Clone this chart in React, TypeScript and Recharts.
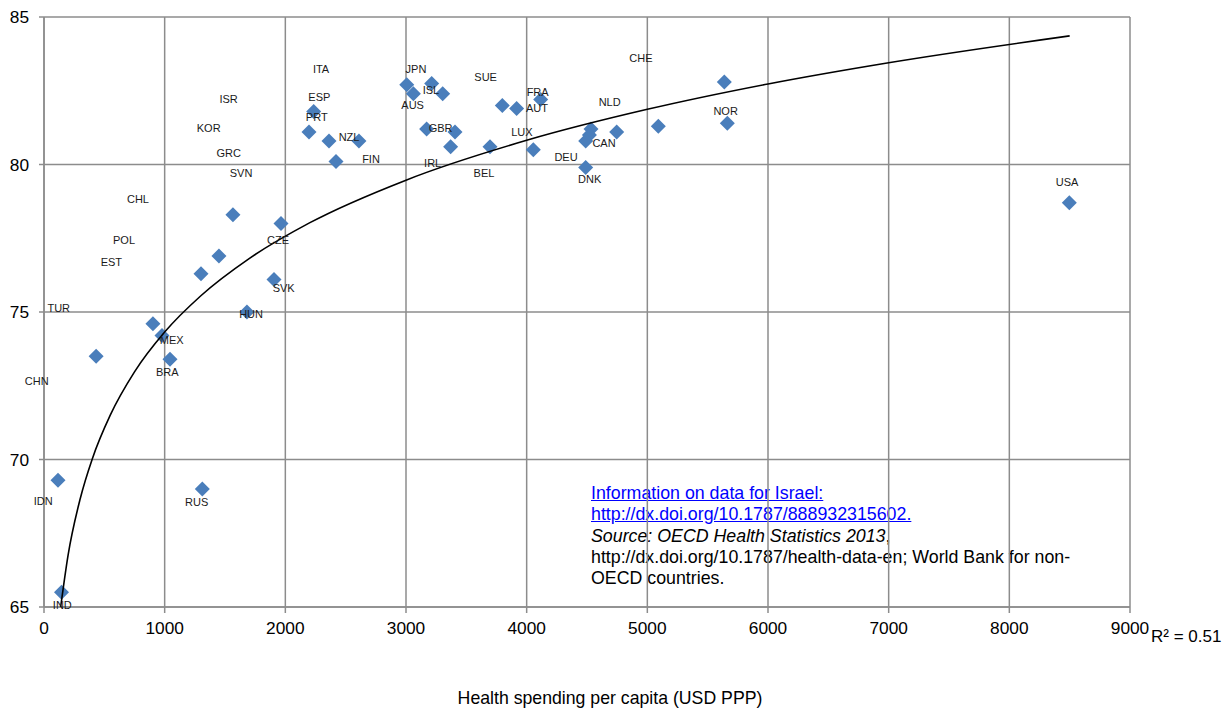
import React from "react";
import { ScatterChart, Scatter, XAxis, YAxis, CartesianGrid, ReferenceDot } from "recharts";

// health spending per capita (USD PPP) vs life expectancy
const countries = [
  "IND", "IDN", "CHN", "TUR", "MEX", "BRA", "RUS", "HUN", "EST", "POL",
  "CHL", "SVK", "CZE", "ISR", "KOR", "GRC", "SVN", "PRT", "ITA", "ESP",
  "JPN", "ISL", "NZL", "GBR", "FIN", "IRL", "AUS", "SUE", "FRA", "BEL",
  "AUT", "CAN", "DEU", "DNK", "LUX", "NLD", "CHE", "NOR", "USA",
];
const spending = [
  145, 116, 432, 903, 978, 1044, 1312, 1682, 1301, 1450,
  1566, 1906, 1964, 2235, 2196, 2362, 2420, 2610, 3006, 3061,
  3213, 3304, 3171, 3406, 3370, 3696, 3798, 3917, 4116, 4055,
  4533, 4520, 4489, 4489, 4746, 5091, 5638, 5663, 8497,
];
const lifeExpectancy = [
  65.5, 69.3, 73.5, 74.6, 74.2, 73.4, 69.0, 75.0, 76.3, 76.9,
  78.3, 76.1, 78.0, 81.8, 81.1, 80.8, 80.1, 80.8, 82.7, 82.4,
  82.75, 82.4, 81.2, 81.1, 80.6, 80.6, 82.0, 81.9, 82.2, 80.5,
  81.2, 81.0, 80.8, 79.9, 81.1, 81.3, 82.8, 81.4, 78.7,
];

// the data labels sit where the original chart left them, not next to the points
const labelNames = [
  "ITA", "ESP", "PRT", "NZL", "FIN", "ISR", "KOR", "GRC", "SVN", "CHL",
  "POL", "EST", "CZE", "SVK", "TUR", "HUN", "MEX", "BRA", "CHN", "IDN",
  "RUS", "IND", "JPN", "AUS", "ISL", "GBR", "IRL", "SUE", "BEL", "FRA",
  "AUT", "LUX", "DEU", "DNK", "CAN", "NLD", "CHE", "NOR", "USA",
];
const labelX = [
  2296, 2282, 2260, 2528, 2710, 1530, 1365, 1530, 1633, 779,
  663, 558, 1939, 1986, 122, 1716, 1058, 1022, -60, -6,
  1265, 152, 3083, 3055, 3207, 3287, 3221, 3660, 3646, 4091,
  4086, 3961, 4326, 4522, 4641, 4688, 4947, 5649, 8478,
];
const labelY = [
  83.24, 82.29, 81.61, 80.93, 80.19, 82.22, 81.24, 80.39, 79.71, 78.83,
  77.44, 76.69, 77.44, 75.81, 75.14, 74.92, 74.05, 72.97, 72.66, 68.59,
  68.56, 65.07, 83.24, 82.02, 82.53, 81.24, 80.05, 82.97, 79.7, 82.46,
  81.92, 81.1, 80.25, 79.51, 80.73, 82.12, 83.61, 81.81, 79.39,
];

// logarithmic trend line
const trendX = [138, 200, 300, 400, 550, 750, 1000, 1300, 1700, 2200, 3000, 4000, 5000, 6000, 7000, 8500];
const trendY = [65.0, 66.77, 68.67, 70.02, 71.51, 72.97, 74.32, 75.55, 76.81, 78.02, 79.47, 80.82, 81.87, 82.73, 83.45, 84.36];

const xTicks = [0, 1000, 2000, 3000, 4000, 5000, 6000, 7000, 8000, 9000];
const yTicks = [65, 70, 75, 80, 85];

const points = countries.map((c, i) => ({ name: c, x: spending[i], y: lifeExpectancy[i] }));
const trend = trendX.map((x, i) => ({ x, y: trendY[i] }));

const FONT = "'Liberation Sans', Arial, sans-serif";
const GRID = "#8c8c8c";

const Diamond = (props: any) => {
  const { cx, cy } = props;
  const r = 7.5;
  return (
    <path
      d={`M${cx},${cy - r}L${cx + r},${cy}L${cx},${cy + r}L${cx - r},${cy}Z`}
      fill="#4A7EBB"
    />
  );
};

export default function App() {
  return (
    <div style={{ position: "absolute", left: 0, top: 0, width: 1222, height: 709, background: "#fff", fontFamily: FONT }}>
      <div
        style={{
          position: "absolute",
          left: 591,
          top: 483,
          fontSize: 17.8,
          lineHeight: "21.3px",
          color: "#000",
          whiteSpace: "nowrap",
        }}
      >
        <div style={{ color: "#0000ff", textDecoration: "underline" }}>Information on data for Israel:</div>
        <div style={{ color: "#0000ff", textDecoration: "underline" }}>http://dx.doi.org/10.1787/888932315602.</div>
        <div>
          <i>Source: OECD Health Statistics 2013</i>,
        </div>
        <div>http://dx.doi.org/10.1787/health-data-en; World Bank for non-</div>
        <div>OECD countries.</div>
      </div>

      <div style={{ position: "absolute", left: 0, top: 0 }}>
        <ScatterChart width={1222} height={709} margin={{ top: 17, right: 92, left: 0, bottom: 62 }}>
          <CartesianGrid stroke={GRID} strokeWidth={1.5} />
          <XAxis
            type="number"
            dataKey="x"
            domain={[0, 9000]}
            ticks={xTicks}
            interval={0}
            height={40}
            stroke={GRID}
            strokeWidth={1.5}
            tickSize={6}
            tickMargin={9}
            tick={{ fill: "#000", fontSize: 17.3, fontFamily: FONT }}
          />
          <YAxis
            type="number"
            dataKey="y"
            domain={[65, 85]}
            ticks={yTicks}
            interval={0}
            width={44}
            stroke={GRID}
            strokeWidth={1.5}
            tickSize={5}
            tickMargin={10}
            tick={{ fill: "#000", fontSize: 17.3, fontFamily: FONT }}
          />
          <Scatter data={points} shape={Diamond} isAnimationActive={false} />
          <Scatter
            data={trend}
            line={{ stroke: "#000", strokeWidth: 1.6 }}
            lineJointType="monotoneX"
            shape={() => <g />}
            isAnimationActive={false}
          />
          {labelNames.map((name, i) => (
            <ReferenceDot
              key={name}
              x={labelX[i]}
              y={labelY[i]}
              r={0}
              ifOverflow="visible"
              shape={(p: any) => (
                <text
                  x={p.cx}
                  y={p.cy}
                  dy="0.36em"
                  textAnchor="middle"
                  fontSize={11}
                  fontFamily={FONT}
                  fill="#1a1a1a"
                >
                  {name}
                </text>
              )}
            />
          ))}
        </ScatterChart>
      </div>

      <div style={{ position: "absolute", left: 1151, top: 627, fontSize: 17, color: "#000", whiteSpace: "nowrap" }}>
        R² = 0.51
      </div>
      <div style={{ position: "absolute", left: 0, width: 1220, top: 688, fontSize: 17.7, textAlign: "center", color: "#000" }}>
        Health spending per capita (USD PPP)
      </div>
    </div>
  );
}
